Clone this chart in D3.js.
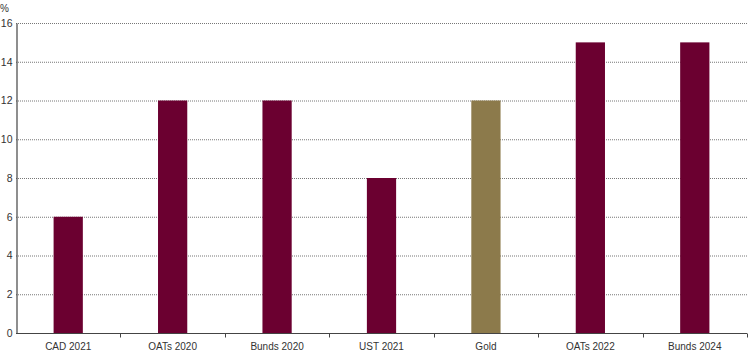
<!DOCTYPE html>
<html>
<head>
<meta charset="utf-8">
<script src="https://cdn.jsdelivr.net/npm/d3@7.9.0/dist/d3.min.js"></script>
<style>
  body { margin: 0; background: #fff; }
  text { font-family: "Liberation Sans", Arial, sans-serif; }
</style>
</head>
<body>
<svg id="chart" width="749" height="357"></svg>
<script>
// chart data
const categories = ['CAD 2021', 'OATs 2020', 'Bunds 2020', 'UST 2021', 'Gold', 'OATs 2022', 'Bunds 2024'];
const values = [6, 12, 12, 8, 12, 15, 15];
const yTicks = [0, 2, 4, 6, 8, 10, 12, 14, 16];

const margin = { top: 23, right: 2, bottom: 24, left: 16 };
const width = 749, height = 357;

const svg = d3.select('#chart');

const x = d3.scaleBand()
  .domain(categories)
  .range([margin.left, width - margin.right])
  .paddingInner(0.72)
  .paddingOuter(0.36);

const y = d3.scaleLinear()
  .domain([0, 16])
  .range([height - margin.bottom, margin.top]);

// dotted gridlines
svg.append('g')
  .selectAll('line')
  .data(yTicks.filter(d => d > 0))
  .join('line')
    .attr('x1', margin.left)
    .attr('x2', width - margin.right)
    .attr('y1', d => y(d) + 0.5)
    .attr('y2', d => y(d) + 0.5)
    .attr('stroke', '#777')
    .attr('stroke-width', 1)
    .attr('stroke-dasharray', '1,1');

// bars
svg.append('g')
  .selectAll('rect')
  .data(categories)
  .join('rect')
    .attr('x', d => x(d))
    .attr('width', x.bandwidth())
    .attr('y', (d, i) => y(values[i]))
    .attr('height', (d, i) => y(0) - y(values[i]))
    .attr('fill', d => d === 'Gold' ? '#8c7a4b' : '#6b0030');

// y axis
const yAxis = svg.append('g')
  .attr('transform', `translate(${margin.left + 0.5},0)`)
  .call(d3.axisLeft(y).tickValues(yTicks).tickSize(0).tickPadding(4));
yAxis.select('.domain').attr('stroke', '#444').attr('stroke-width', 1.2);
yAxis.selectAll('text').attr('font-size', 10.5).attr('fill', '#333');

// x axis with ticks at band boundaries
const xAxisG = svg.append('g')
  .attr('transform', `translate(0,${y(0) + 0.5})`);
xAxisG.append('line')
  .attr('x1', margin.left)
  .attr('x2', width - margin.right)
  .attr('stroke', '#444')
  .attr('stroke-width', 1.2);
const step = x.step();
const bounds = d3.range(categories.length + 1).map(i => margin.left + i * step);
xAxisG.selectAll('.tk')
  .data(bounds.slice(1))
  .join('line')
    .attr('class', 'tk')
    .attr('x1', d => Math.round(d) + 0.5)
    .attr('x2', d => Math.round(d) + 0.5)
    .attr('y1', 0)
    .attr('y2', 4)
    .attr('stroke', '#444');
xAxisG.selectAll('.lbl')
  .data(categories)
  .join('text')
    .attr('class', 'lbl')
    .attr('x', d => x(d) + x.bandwidth() / 2)
    .attr('y', 16)
    .attr('text-anchor', 'middle')
    .attr('font-size', 10)
    .attr('fill', '#333')
    .text(d => d);

// unit label
svg.append('text')
  .attr('x', 0)
  .attr('y', 12)
  .attr('font-size', 10)
  .attr('fill', '#333')
  .text('%');
</script>
</body>
</html>
